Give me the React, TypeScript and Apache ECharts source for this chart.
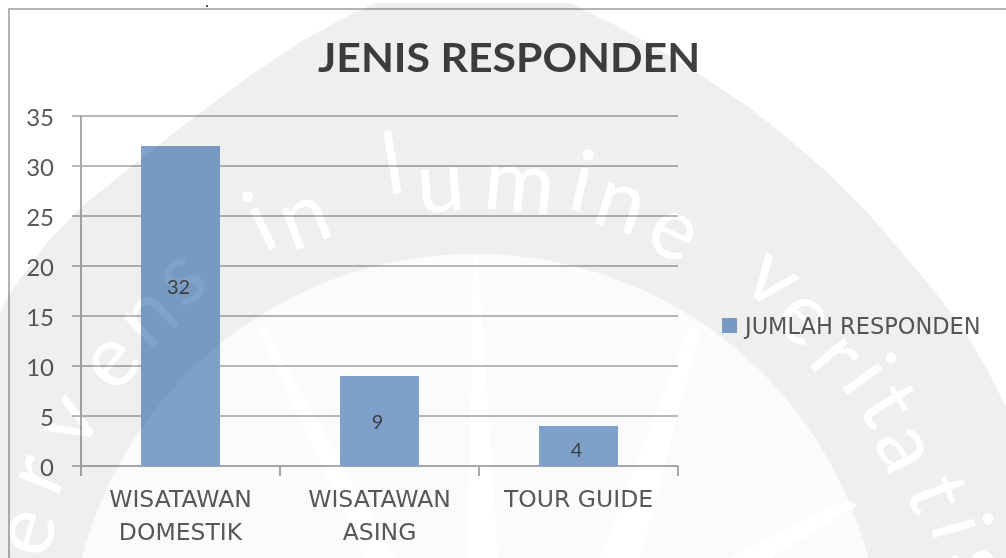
import React, { useEffect, useRef } from "react";
import * as echarts from "echarts";

const categories = ["WISATAWAN\nDOMESTIK", "WISATAWAN\nASING", "TOUR GUIDE"];
const seriesName = "JUMLAH RESPONDEN";
const values = [32, 9, 4];
const labelLift = [-20, 0, 3];
const titleText = "JENIS RESPONDEN";

// Watermark (decorative background emblem)
const wmCenter = [475, 660];
const wmInnerR = 406;
const wmOuter = [[0, 312], [10, 293], [45, 245], [80, 208], [117, 178], [165, 140], [210, 105], [255, 72], [300, 42], [340, 20], [375, 3], [570, 3], [615, 25], [660, 50], [705, 78], [750, 108], [790, 140], [830, 175], [865, 210], [900, 250], [932, 288], [960, 325], [985, 365], [1006, 407], [1006, 558]];
const wmLetters: [string, number, number][] = [
  ["e", 20, 530], ["r", 32, 472], ["v", 63, 417], ["e", 105, 357], ["n", 143, 312], ["s", 177, 272],
  ["i", 258, 218], ["n", 302, 212],
  ["l", 392, 160], ["u", 440, 178], ["m", 520, 178], ["i", 583, 178], ["n", 623, 197], ["e", 677, 225],
  ["v", 777, 273], ["e", 810, 312], ["r", 842, 352], ["i", 872, 372], ["t", 893, 402], ["a", 912, 445], ["t", 942, 492], ["i", 965, 525], ["s", 985, 565],
];
const wmRays = [
  [[473, 258], [478, 258], [498, 558], [468, 558]],
  [[258, 330], [264, 326], [395, 558], [365, 558]],
  [[690, 325], [700, 330], [640, 558], [600, 558]],
  [[858, 505], [846, 500], [730, 558], [770, 558]],
];

export default function App() {
  const bg = useRef<HTMLDivElement>(null);
  const fg = useRef<HTMLDivElement>(null);
  useEffect(() => {
    const chart = echarts.init(bg.current!, undefined, { renderer: "svg" });
    const font = "Lato";
    const wide = "DejaVu Sans";
    chart.setOption({
      animation: false,
      backgroundColor: "#ffffff",
      legend: {
        left: 717,
        top: 309,
        itemWidth: 15,
        itemHeight: 15,
        icon: "rect",
        itemGap: 6,
        textStyle: { fontFamily: wide, fontSize: 22.5, color: "#595959", padding: [0, 0, 0, 3] },
      },
      grid: { left: 81, top: 116, width: 597, height: 350, containLabel: false },
      xAxis: {
        type: "category",
        data: categories,
        axisLine: { lineStyle: { color: "#aaaaaa", width: 2 } },
        axisTick: { show: true, alignWithLabel: false, length: 10, lineStyle: { color: "#aaaaaa", width: 2 } },
        axisLabel: { fontFamily: wide, fontSize: 23.5, color: "#595959", lineHeight: 33, margin: 16 },
      },
      yAxis: {
        type: "value",
        min: 0,
        max: 35,
        interval: 5,
        axisLine: { show: true, lineStyle: { color: "#aaaaaa", width: 2 } },
        axisTick: { show: true, length: 9, lineStyle: { color: "#a0a0a0", width: 1.5 } },
        axisLabel: { fontFamily: font, fontSize: 24, color: "#595959", margin: 27, padding: [0, 0, 3, 0] },
        splitLine: { show: true, lineStyle: { color: "#a0a0a0", width: 1.5 } },
      },
      series: [
        {
          type: "bar",
          name: seriesName,
          barWidth: 79,
          itemStyle: { color: "#80a3ce" },
          label: { show: true, position: "inside", fontFamily: font, fontSize: 20, color: "#404040" },
          data: values.map((v, i) => ({ value: v, label: { offset: [-2, labelLift[i]] } })),
        },
      ],
      graphic: [
        {
          type: "text",
          x: 509,
          y: 57,
          scaleX: 1.07,
          style: {
            text: titleText,
            font: "bold 40px Lato",
            fill: "#404040",
            textAlign: "center",
            textVerticalAlign: "middle",
          },
        },
        { type: "rect", shape: { x: 8, y: 8, width: 2, height: 550 }, style: { fill: "#b4b4b4" } },
        { type: "rect", shape: { x: 8, y: 8, width: 998, height: 2 }, style: { fill: "#b4b4b4" } },
        { type: "rect", shape: { x: 206, y: 5, width: 2, height: 2 }, style: { fill: "#555555" } },
      ],
    });

    const wm = echarts.init(fg.current!, undefined, { renderer: "svg" });
    const [cx, cy] = wmCenter;
    const arc: number[][] = [];
    const startA = Math.asin((558 - cy) / wmInnerR);
    for (let k = 0; k <= 60; k++) {
      const a = startA - (k / 60) * (Math.PI + 2 * startA);
      arc.push([cx + wmInnerR * Math.cos(a), cy + wmInnerR * Math.sin(a)]);
    }
    wm.setOption({
      animation: false,
      backgroundColor: "transparent",
      graphic: [
        { type: "polygon", z: 1, shape: { points: [...wmOuter, ...arc, [0, 558]] }, style: { fill: "#efefef" } },
        { type: "polygon", z: 1, shape: { points: arc }, style: { fill: "#fbfbfb" } },
        ...wmRays.map((p) => ({ type: "polygon", z: 2, shape: { points: p }, style: { fill: "#ffffff" } })),
        ...wmLetters.map(([ch, x, y]) => ({
          type: "text",
          z: 3,
          x,
          y,
          rotation: -Math.atan2(x - cx, cy - y),
          style: {
            text: ch,
            fill: "#ffffff",
            font: "400 86px Lato",
            textAlign: "center",
            textVerticalAlign: "middle",
          },
        })),
      ],
    });
    return () => {
      chart.dispose();
      wm.dispose();
    };
  }, []);
  const box: React.CSSProperties = { position: "absolute", left: 0, top: 0, width: 1006, height: 558 };
  return (
    <div style={{ ...box, overflow: "hidden", isolation: "isolate" }}>
      <div ref={bg} style={box} />
      <div ref={fg} style={{ ...box, mixBlendMode: "multiply", pointerEvents: "none" }} />
    </div>
  );
}
